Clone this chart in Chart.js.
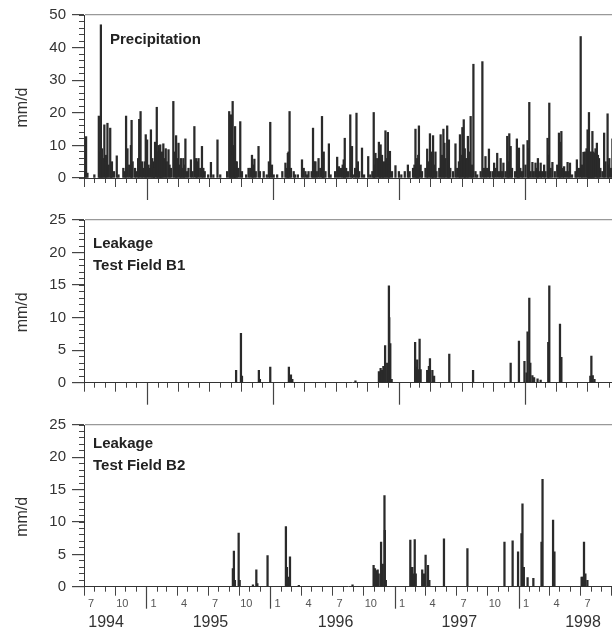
<!DOCTYPE html>
<html>
<head>
<meta charset="utf-8">
<script src="https://cdn.jsdelivr.net/npm/chart.js@4.4.1/dist/chart.umd.min.js"></script>
<style>
  html, body { margin: 0; padding: 0; background: #fff; overflow: hidden; width: 612px; height: 633px; }
  canvas { position: absolute; left: 0; }
  #c1 { top: 0; }
  #c2 { top: 205px; }
  #c3 { top: 410px; }
</style>
</head>
<body>
<canvas id="c1" width="620" height="205"></canvas>
<canvas id="c2" width="620" height="205"></canvas>
<canvas id="c3" width="620" height="223"></canvas>
<script>
// x values are days counted from 1 July 1994
var rainPeakDays = [
  6, 43, 49, 52, 59, 64, 68, 76, 81, 95,
  114, 122, 136, 138, 148, 160, 164, 168, 179, 183,
  194, 201, 206, 211, 216, 221, 226, 230, 237, 245,
  259, 267, 274, 281, 288, 294, 303, 310, 320, 332,
  342, 346, 368, 387, 395, 421, 426, 431, 434, 438,
  443, 453, 477, 487, 494, 506, 521, 540, 545, 584,
  591, 596, 608, 632, 642, 651, 664, 671, 680, 690,
  695, 710, 734, 739, 753, 756, 772, 777, 790, 794,
  806, 824, 840, 845, 855, 860, 867, 874, 881, 887,
  903, 913, 939, 954, 961, 966, 971, 976, 995, 1003,
  1007, 1012, 1019, 1034, 1042, 1045, 1053, 1058, 1077, 1090,
  1097, 1101, 1106, 1113, 1121, 1129, 1135, 1155, 1164, 1174,
  1189, 1198, 1208, 1216, 1227, 1233, 1237, 1255, 1261, 1274,
  1286, 1291, 1300, 1309, 1316, 1324, 1334, 1344, 1349, 1358,
  1377, 1384, 1392, 1402, 1409, 1429, 1440, 1448, 1460, 1464,
  1469, 1474, 1479, 1487, 1493, 1508, 1518, 1523, 1532
];
var rainPeakVals = [
  12.7, 19, 47, 9, 16.3, 7, 16.8, 15.3, 5, 6.8,
  3, 19, 10, 17.7, 3, 18, 20.4, 5, 13.3, 11.7,
  14.8, 5, 11, 21.7, 10, 10.2, 8, 10.5, 9, 8.7,
  23.5, 13, 10.7, 6, 6, 12, 3, 5.6, 15.8, 6,
  9.7, 3, 4.8, 11.7, 1, 20.4, 19.4, 23.5, 10, 15.8,
  5, 17.3, 3, 7, 5.8, 9.7, 2, 17.1, 4, 4.6,
  7.6, 20.4, 2, 5.6, 2, 2, 15.3, 5, 6, 18.9,
  8, 10.5, 6.4, 3.5, 5.6, 12.2, 19.4, 9.7, 19.9, 5,
  9.2, 6.6, 20.1, 7.6, 11, 10.2, 4, 14.5, 14, 8.2,
  3.8, 2, 4, 3, 15, 6, 16, 4, 8.9, 13.6,
  8, 13, 8, 13.3, 15, 10.7, 16, 11.7, 10.5, 13.3,
  15.5, 17.9, 6, 12.8, 18.9, 34.9, 2, 35.7, 6.6, 8.9,
  4.6, 7.6, 6, 4.6, 12.8, 13.6, 9.7, 12, 9.2, 10.2,
  11.5, 23.2, 4.8, 4.6, 6, 4.6, 4, 12.2, 23, 4.8,
  13.8, 14.3, 3.5, 4.8, 4.6, 5.6, 43.4, 7.9, 14.8, 20.1,
  7.6, 14.3, 7.6, 10.7, 6, 13.8, 19.7, 6, 12
];
var rainLowDays = [
  2, 10, 30, 46, 55, 62, 71, 79, 87, 100,
  118, 126, 131, 141, 152, 157, 172, 176, 187, 190,
  198, 203, 213, 219, 224, 233, 240, 248, 252, 263,
  270, 278, 285, 291, 299, 315, 325, 328, 337, 350,
  360, 375, 415, 424, 429, 436, 440, 447, 458, 470,
  482, 490, 498, 510, 530, 536, 550, 560, 575, 588,
  593, 600, 612, 620, 637, 647, 660, 668, 675, 685,
  693, 700, 715, 728, 745, 750, 760, 765, 780, 786,
  798, 812, 830, 836, 842, 850, 858, 864, 870, 877,
  884, 893, 920, 930, 944, 958, 964, 969, 980, 990,
  998, 1010, 1016, 1022, 1030, 1038, 1048, 1056, 1062, 1070,
  1082, 1087, 1094, 1104, 1110, 1117, 1125, 1140, 1150, 1160,
  1168, 1178, 1185, 1193, 1203, 1212, 1222, 1230, 1241, 1250,
  1258, 1265, 1270, 1280, 1288, 1295, 1304, 1313, 1320, 1328,
  1338, 1346, 1353, 1365, 1372, 1380, 1388, 1397, 1405, 1415,
  1425, 1435, 1444, 1452, 1457, 1462, 1467, 1472, 1477, 1483,
  1490, 1497, 1503, 1512, 1520, 1528
];
var rainLowVals = [
  2, 1.5, 1, 8, 6, 5, 4, 3, 2, 1,
  2, 9, 4, 5, 2, 6, 3, 5, 4, 3,
  6, 3, 8, 9, 7, 6, 5, 4, 3, 8,
  6, 4, 3, 4, 2, 2, 6, 5, 3, 2,
  1, 1, 2, 8, 7, 6, 5, 3, 2, 1,
  3, 4, 2, 2, 1, 5, 1, 1, 2, 3,
  8, 3, 1, 1, 3, 1, 2, 5, 2, 3,
  6, 2, 1, 2, 3, 4, 3, 2, 1, 3,
  2, 1, 1, 2, 4, 6, 8, 7, 5, 6,
  4, 2, 1, 2, 2, 4, 5, 7, 2, 3,
  5, 7, 4, 2, 3, 7, 6, 8, 3, 2,
  3, 5, 7, 9, 6, 8, 4, 1, 2, 3,
  3, 2, 2, 3, 2, 2, 2, 5, 3, 2,
  4, 3, 2, 4, 9, 2, 2, 3, 2, 2,
  2, 7, 3, 2, 4, 11, 3, 2, 2, 1,
  2, 3, 4, 8, 9, 9, 8, 8, 8, 9,
  7, 3, 2, 5, 4, 3
];
var b1Days = [
  441, 455, 458, 507, 510, 540, 594, 600, 604, 787,
  855, 860, 864, 868, 873, 879, 884, 885, 888, 892,
  960, 963, 966, 969, 973, 976, 995, 1000, 1003, 1010,
  1015, 1059, 1128, 1237, 1261, 1277, 1283, 1286, 1291, 1294,
  1300, 1305, 1315, 1324, 1346, 1349, 1380, 1384, 1468, 1471,
  1475, 1480
];
var b1Vals = [
  1.9, 7.6, 1.0, 1.9, 0.5, 2.4, 2.4, 1.2, 0.5, 0.3,
  1.7, 2.2, 1.9, 2.5, 5.7, 3.0, 14.9, 10.0, 6.0, 0.5,
  6.2, 2.4, 3.5, 2.0, 6.7, 2.0, 1.9, 2.5, 3.7, 1.9,
  1.0, 4.4, 1.9, 3.0, 6.4, 3.3, 1.5, 7.8, 13.0, 3.0,
  1.1, 0.8, 0.6, 0.4, 6.2, 14.9, 9.0, 3.9, 1.0, 4.1,
  1.1, 0.5
];
var b2Days = [
  438, 441, 444, 455, 458, 497, 507, 510, 540, 594,
  597, 600, 606, 632, 790, 852, 856, 860, 864, 867,
  874, 879, 884, 885, 888, 960, 963, 966, 969, 973,
  976, 995, 1000, 1005, 1012, 1016, 1059, 1128, 1237, 1261,
  1277, 1287, 1290, 1294, 1305, 1322, 1346, 1349, 1380, 1384,
  1464, 1467, 1471, 1475, 1481
];
var b2Vals = [
  2.8, 5.5, 1.0, 8.3, 1.0, 0.3, 2.6, 0.5, 4.8, 9.3,
  3.0, 1.5, 4.6, 0.2, 0.3, 3.3, 2.8, 2.5, 2.6, 2.0,
  6.9, 3.5, 14.1, 8.7, 1.0, 7.2, 3.0, 3.0, 2.0, 7.3,
  2.0, 2.6, 2.0, 4.9, 3.3, 1.0, 7.4, 5.9, 6.9, 7.1,
  5.4, 8.2, 12.8, 3.0, 1.4, 1.3, 6.9, 16.6, 10.3, 5.4,
  1.5, 1.5, 6.9, 2.0, 1.0
];
var yearLabels = ["1994", "1995", "1996", "1997", "1998"];
var yearLabelDates = ["1994-09-04", "1995-07-08", "1996-07-10", "1997-07-09", "1998-07-08"];

var START = Date.UTC(1994, 6, 1);
var X_MAX = 1554;
function dayOf(y, m, d) { return (Date.UTC(y, m - 1, d) - START) / 86400000; }
function monthOf(v) { return new Date(START + v * 86400000).getUTCMonth() + 1; }

var monthTicks = [], quarterTicks = [], yearTicks = [];
for (var y = 1994; y <= 1998; y++) {
  for (var m = 1; m <= 12; m++) {
    var d = dayOf(y, m, 1);
    if (d < 0 || d > X_MAX) continue;
    monthTicks.push(d);
    if (m % 3 == 1) quarterTicks.push(d);
    if (m == 1) yearTicks.push(d);
  }
}
var yearLabelDays = yearLabelDates.map(function (s) {
  var p = s.split("-");
  return dayOf(+p[0], +p[1], +p[2]);
});

function zip(days, vals) {
  return days.map(function (d, i) { return { x: d, y: vals[i] }; });
}

Chart.defaults.font.family = '"Liberation Sans", Arial, Helvetica, sans-serif';
Chart.defaults.color = "#333";

var panelText = {
  id: "panelText",
  afterDraw: function (chart, args, o) {
    var ctx = chart.ctx, a = chart.chartArea;
    ctx.save();
    ctx.fillStyle = "#222";
    ctx.font = 'bold 15px "Liberation Sans", Arial, sans-serif';
    ctx.textBaseline = "middle";
    o.lines.forEach(function (t, i) {
      ctx.fillText(t, a.left + o.dx, a.top + o.dy + i * 22.5);
    });
    ctx.translate(23, (a.top + a.bottom) / 2 + 11);
    ctx.rotate(-Math.PI / 2);
    ctx.textAlign = "center";
    ctx.fillStyle = "#333";
    ctx.font = '16px "Liberation Sans", Arial, sans-serif';
    ctx.fillText("mm/d", 0, 0);
    ctx.restore();
  }
};

function fixedTicks(list) {
  return function (s) { s.ticks = list.map(function (v) { return { value: v }; }); };
}

// one horizontal time axis; several of them share the same range and only differ in tick list
function timeAxis(weight, list, extra) {
  var ax = {
    type: "linear", position: "bottom", min: 0, max: X_MAX, weight: weight,
    offset: false, bounds: "data",
    afterBuildTicks: fixedTicks(list),
    afterFit: function (s) { s.height = 0; },
    grid: { offset: false, drawOnChartArea: false, tickLength: 5, tickColor: "#444" },
    border: { display: false },
    ticks: { display: false, autoSkip: false, maxRotation: 0, minRotation: 0 }
  };
  return Object.assign(ax, extra);
}

function createPanel(id, points, cfg) {
  var scales = {
    x: timeAxis(2, quarterTicks, {
      afterFit: function (s) { s.height = cfg.xHeight; },
      grid: { offset: false, drawOnChartArea: false, tickLength: 9, tickColor: "#444", tickWidth: 1 },
      border: { display: true, color: "#333", width: 1 },
      ticks: {
        display: cfg.monthLabels, autoSkip: false, maxRotation: 0, minRotation: 0, labelOffset: 7, padding: 2,
        color: "#555", font: { size: 11 },
        callback: function (v) { return String(monthOf(v)); }
      }
    }),
    xMonth: timeAxis(0, monthTicks, {}),
    xYear: timeAxis(1, yearTicks, {
      grid: { offset: false, drawOnChartArea: false, tickLength: 22, tickColor: "#444", tickWidth: 1.2 }
    }),
    y: {
      position: "left", min: 0, max: cfg.yMax, weight: 1,
      afterFit: function (s) { s.width = 84; },
      ticks: { stepSize: cfg.major, color: "#333", font: { size: 15 }, padding: 6 },
      grid: {
        tickLength: 12, tickColor: "#444", lineWidth: 1.2,
        color: function (c) { return c.tick && c.tick.value == cfg.yMax ? "#999" : "rgba(0,0,0,0)"; }
      },
      border: { color: "#333", width: 1 }
    },
    yMinor: {
      position: "left", min: 0, max: cfg.yMax, weight: 0,
      afterFit: function (s) { s.width = 0; },
      ticks: { display: false, stepSize: cfg.minor },
      grid: { drawOnChartArea: false, tickLength: 5, tickColor: "#444" },
      border: { display: false }
    }
  };
  if (cfg.yearLabels) {
    scales.xYearLabel = timeAxis(3, yearLabelDays, {
      afterFit: function (s) { s.height = cfg.yearHeight; },
      grid: { offset: false, display: true, drawOnChartArea: false, drawTicks: false },
      ticks: {
        autoSkip: false, maxRotation: 0, minRotation: 0, padding: 2, color: "#333", font: { size: 16 },
        callback: function (v, i) { return yearLabels[i]; }
      }
    });
  }
  new Chart(document.getElementById(id), {
    type: "bar",
    data: {
      datasets: [{
        data: points,
        backgroundColor: "#2a2a2a",
        barThickness: 1.6,
        borderWidth: 0
      }]
    },
    options: {
      responsive: false,
      animation: false,
      layout: { padding: { top: 14, left: 0, right: 0, bottom: 0 } },
      plugins: {
        legend: { display: false },
        tooltip: { enabled: false },
        panelText: { lines: cfg.lines, dx: cfg.dx, dy: cfg.dy }
      },
      scales: scales
    },
    plugins: [panelText]
  });
}

createPanel("c1", zip(rainPeakDays, rainPeakVals).concat(zip(rainLowDays, rainLowVals)), {
  yMax: 50, major: 10, minor: 2, xHeight: 27, monthLabels: false,
  lines: ["Precipitation"], dx: 26, dy: 25
});
createPanel("c2", zip(b1Days, b1Vals), {
  yMax: 25, major: 5, minor: 1, xHeight: 27.3, monthLabels: false,
  lines: ["Leakage", "Test Field B1"], dx: 9, dy: 23.5
});
createPanel("c3", zip(b2Days, b2Vals), {
  yMax: 25, major: 5, minor: 1, xHeight: 24, monthLabels: true,
  yearLabels: true, yearHeight: 22.3,
  lines: ["Leakage", "Test Field B2"], dx: 9, dy: 18.5
});
</script>
</body>
</html>
